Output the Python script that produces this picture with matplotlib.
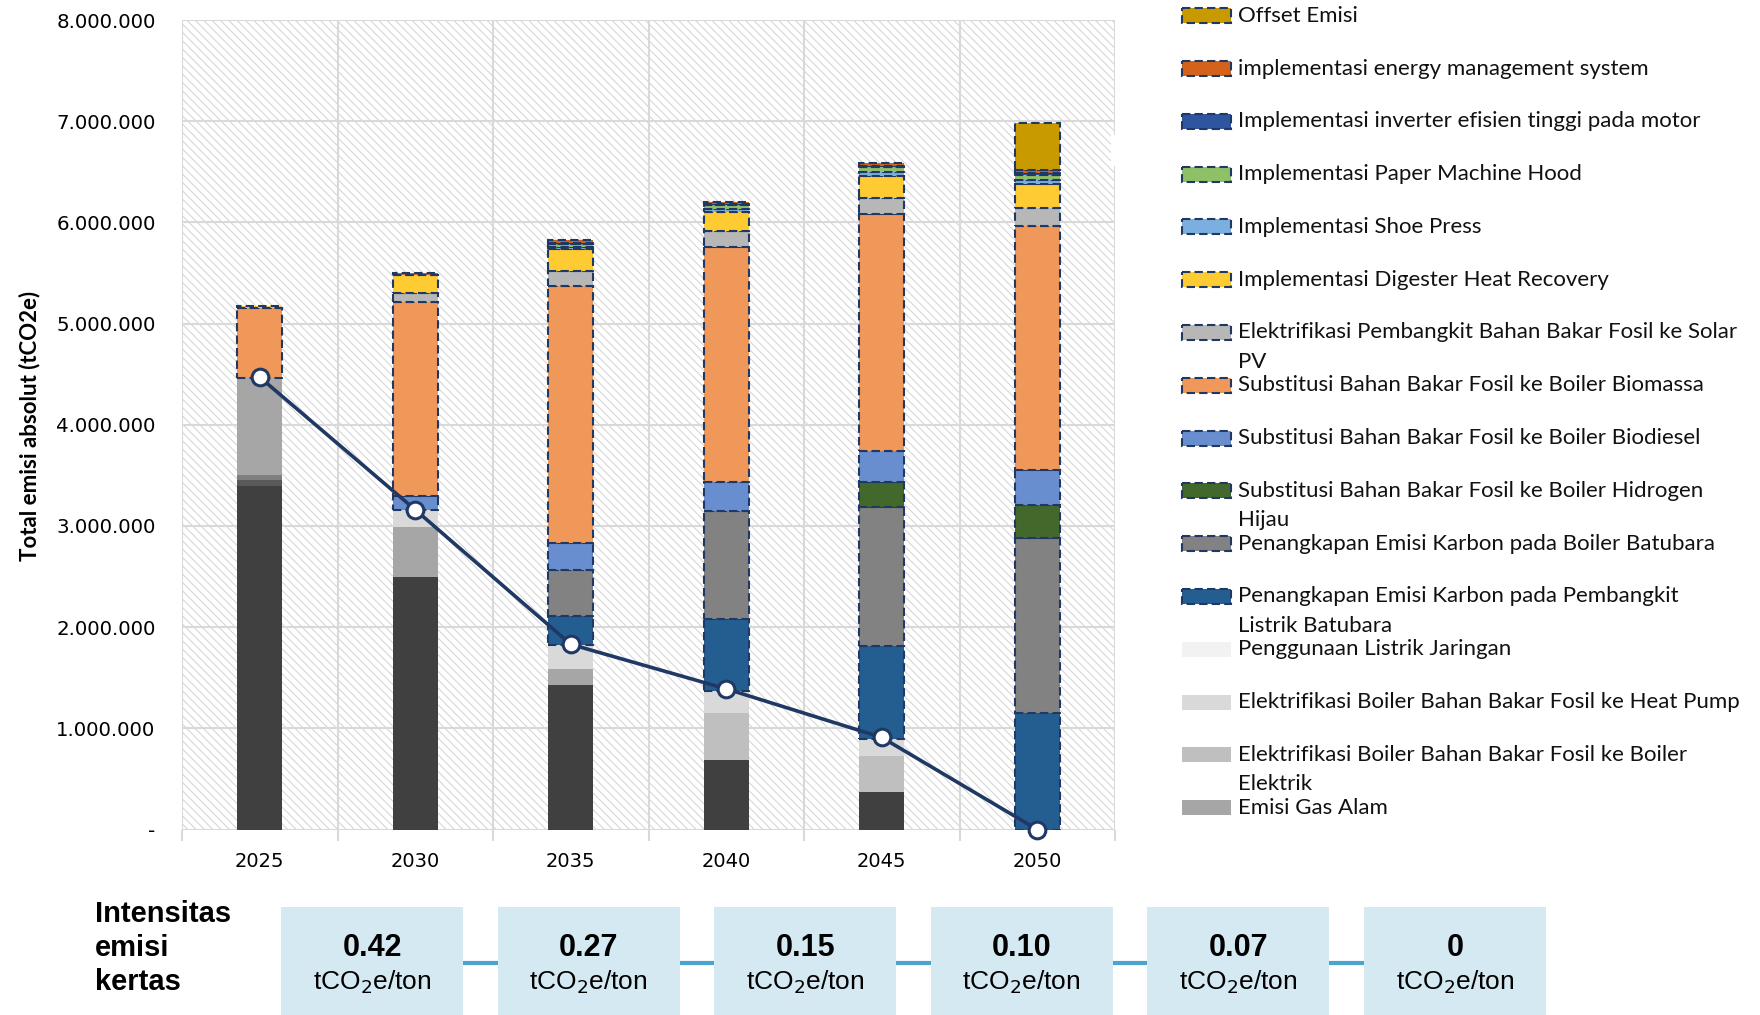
import matplotlib
matplotlib.use("Agg")
import matplotlib.pyplot as plt
from matplotlib.patches import Rectangle
from matplotlib.ticker import FuncFormatter, FixedLocator
import numpy as np

# ---------------- data (tCO2e) ----------------
years = ['2025', '2030', '2035', '2040', '2045', '2050']

# residual emissions (solid, no outline)
emisi_batubara = [3390000, 2500000, 1430000, 690000, 370000, 0]
emisi_lain_a = [60000, 0, 0, 0, 0, 0]
emisi_lain_b = [50000, 0, 0, 0, 0, 0]
emisi_gas_alam = [960000, 490000, 160000, 0, 0, 0]
elek_boiler_elektrik = [0, 0, 0, 460000, 360000, 0]
elek_heat_pump = [0, 170000, 230000, 220000, 160000, 0]
listrik_jaringan = [0, 0, 0, 0, 0, 0]

# reduction measures (dashed outline)
capture_pembangkit = [0, 0, 290000, 710000, 920000, 1150000]
capture_boiler = [0, 0, 450000, 1070000, 1380000, 1730000]
boiler_hidrogen = [0, 0, 0, 0, 240000, 330000]
boiler_biodiesel = [0, 140000, 270000, 280000, 310000, 340000]
boiler_biomassa = [690000, 1910000, 2540000, 2330000, 2340000, 2410000]
solar_pv = [0, 90000, 150000, 150000, 160000, 180000]
digester_heat = [20000, 180000, 215000, 190000, 220000, 240000]
shoe_press = [0, 0, 20000, 30000, 40000, 40000]
paper_hood = [0, 0, 35000, 40000, 50000, 50000]
inverter_motor = [0, 0, 10000, 10000, 10000, 20000]
energy_mgmt = [0, 20000, 25000, 25000, 30000, 30000]
offset_emisi = [0, 0, 0, 0, 0, 460000]

net_emisi = [4470000, 3160000, 1830000, 1390000, 910000, 0]

intensitas = ['0.42', '0.27', '0.15', '0.10', '0.07', '0']

# (label, values, color, dashed, in legend) bottom -> top
series = [
    ('Emisi Batubara', emisi_batubara, '#404040', False, False),
    ('Emisi Lain A', emisi_lain_a, '#595959', False, False),
    ('Emisi Lain B', emisi_lain_b, '#7f7f7f', False, False),
    ('Emisi Gas Alam', emisi_gas_alam, '#a6a6a6', False, True),
    ('Elektrifikasi Boiler Bahan Bakar Fosil ke Boiler\nElektrik', elek_boiler_elektrik, '#bfbfbf', False, True),
    ('Elektrifikasi Boiler Bahan Bakar Fosil ke Heat Pump', elek_heat_pump, '#d9d9d9', False, True),
    ('Penggunaan Listrik Jaringan', listrik_jaringan, '#f2f2f2', False, True),
    ('Penangkapan Emisi Karbon pada Pembangkit\nListrik Batubara', capture_pembangkit, '#245e90', True, True),
    ('Penangkapan Emisi Karbon pada Boiler Batubara', capture_boiler, '#828282', True, True),
    ('Substitusi Bahan Bakar Fosil ke Boiler Hidrogen\nHijau', boiler_hidrogen, '#43682b', True, True),
    ('Substitusi Bahan Bakar Fosil ke Boiler Biodiesel', boiler_biodiesel, '#698ecf', True, True),
    ('Substitusi Bahan Bakar Fosil ke Boiler Biomassa', boiler_biomassa, '#f0975a', True, True),
    ('Elektrifikasi Pembangkit Bahan Bakar Fosil ke Solar\nPV', solar_pv, '#b7b7b7', True, True),
    ('Implementasi Digester Heat Recovery', digester_heat, '#ffcb32', True, True),
    ('Implementasi Shoe Press', shoe_press, '#7aafdf', True, True),
    ('Implementasi Paper Machine Hood', paper_hood, '#8ec067', True, True),
    ('Implementasi inverter efisien tinggi pada motor', inverter_motor, '#2f55a1', True, True),
    ('implementasi energy management system', energy_mgmt, '#d4621a', True, True),
    ('Offset Emisi', offset_emisi, '#c99a00', True, True),
]

NAVY = '#1f3864'
GRID = '#d9d9d9'
DASH = (0, (4, 2))
W, H = 1760, 1015

plt.rcParams['hatch.linewidth'] = 0.7
plt.rcParams['mathtext.fontset'] = 'custom'
plt.rcParams['mathtext.rm'] = 'Liberation Sans Narrow'

fig = plt.figure(figsize=(W / 100, H / 100), dpi=100)

# overlay in pixel coords for legend / intensity row
ov = fig.add_axes([0, 0, 1, 1], zorder=0)
ov.set_xlim(0, W)
ov.set_ylim(H, 0)
ov.axis('off')

ax = fig.add_axes([182 / W, 1 - 829.5 / H, (1115 - 182) / W, (829.5 - 20) / H], zorder=1)

x = np.arange(len(years))
ax.set_xlim(-0.5, len(years) - 0.5)
ax.set_ylim(0, 8000000)

# hatched background
bg = Rectangle((0, 0), 1, 1, transform=ax.transAxes, facecolor='white',
               edgecolor='#d2d2d2', hatch='\\\\\\\\', linewidth=0, zorder=0)
ax.add_patch(bg)

# stacked bars
bottom = np.zeros(len(years))
for label, vals, color, dashed, _ in series:
    vals = np.array(vals, dtype=float)
    idx = vals > 0
    if idx.any():
        if dashed:
            ax.bar(x[idx], vals[idx], 0.29, bottom=bottom[idx], color=color,
                   edgecolor=NAVY, linewidth=1.5, linestyle=DASH, zorder=3)
        else:
            ax.bar(x[idx], vals[idx], 0.29, bottom=bottom[idx], color=color,
                   linewidth=0, zorder=2)
    bottom += vals

# net emission line
ax.plot(x, net_emisi, color=NAVY, lw=2.6, marker='o', ms=12,
        mfc='white', mec=NAVY, mew=2.2, zorder=5, clip_on=False)

# grid / axes
for yv in range(0, 8000001, 1000000):
    ax.axhline(yv, color=GRID, lw=1.5, zorder=1)
for xv in np.arange(-0.5, len(years), 1):
    ax.axvline(xv, color=GRID, lw=1.5, zorder=1)
for s in ax.spines.values():
    s.set_visible(False)

ax.yaxis.set_major_locator(FixedLocator(range(0, 8000001, 1000000)))
ax.yaxis.set_major_formatter(FuncFormatter(
    lambda v, p: '-' if v == 0 else f'{v:,.0f}'.replace(',', '.')))
ax.tick_params(axis='y', length=0, pad=19, labelsize=14.2, labelcolor='#000000')
ax.set_xticks(x)
ax.set_xticklabels(years)
ax.tick_params(axis='x', length=0, pad=16, labelsize=14)
ax.set_xticks(np.arange(-0.5, len(years), 1), minor=True)
ax.tick_params(axis='x', which='minor', length=8, width=1.5, color=GRID)

ov.text(30, 426, 'Total emisi absolut (tCO2e)', fontsize=16, fontweight='bold',
        rotation=90, ha='center', va='center', family=['Lato', 'DejaVu Sans'])

# little white notch on the right border
fig.add_artist(Rectangle((1111 / W, 1 - 166 / H), 9 / W, 31 / H, transform=fig.transFigure,
                         facecolor='white', edgecolor='none', zorder=10))

# legend (drawn manually, top -> bottom)
leg_items = [s for s in series if s[4]][::-1]
y0, dy = 15.7, 52.8
for i, (label, vals, color, dashed, _) in enumerate(leg_items):
    yc = y0 + i * dy
    if dashed:
        ov.add_patch(Rectangle((1182, yc - 7.5), 49, 15, facecolor=color, edgecolor=NAVY,
                               linewidth=1.5, linestyle=DASH))
    else:
        ov.add_patch(Rectangle((1182, yc - 7.5), 49, 15, facecolor=color, edgecolor='none'))
    for k, line in enumerate(label.split('\n')):
        ov.text(1238, yc + k * 29.5, line, fontsize=16, va='center', ha='left',
                family=['Lato', 'DejaVu Sans'], color='#111111')

# intensity row
narrow = ['Liberation Sans Narrow', 'Liberation Sans', 'DejaVu Sans']
for k, w in enumerate(['Intensitas', 'emisi', 'kertas']):
    ov.text(95, 914 + k * 34, w, fontsize=21, fontweight='bold', va='center',
            ha='left', family=narrow)

box_x0, box_w, box_step, box_top = 281, 182, 216.6, 907
ov.plot([box_x0 + box_w / 2, box_x0 + box_w / 2 + box_step * (len(intensitas) - 1)],
        [963, 963], color='#4ba3d0', lw=3, zorder=1)
for k, val in enumerate(intensitas):
    bx = box_x0 + k * box_step
    ov.add_patch(Rectangle((bx, box_top), box_w, H - box_top + 5,
                           facecolor='#d5e9f3', edgecolor='none', zorder=2))
    ov.text(bx + box_w / 2, 948, val, fontsize=22, fontweight='bold', ha='center',
            va='center', family=narrow, zorder=3)
    ov.text(bx + box_w / 2, 982, r'tCO$_\mathrm{2}$e/ton', fontsize=19, ha='center',
            va='center', family=narrow, zorder=3)

fig.savefig('out.png', dpi=100)
